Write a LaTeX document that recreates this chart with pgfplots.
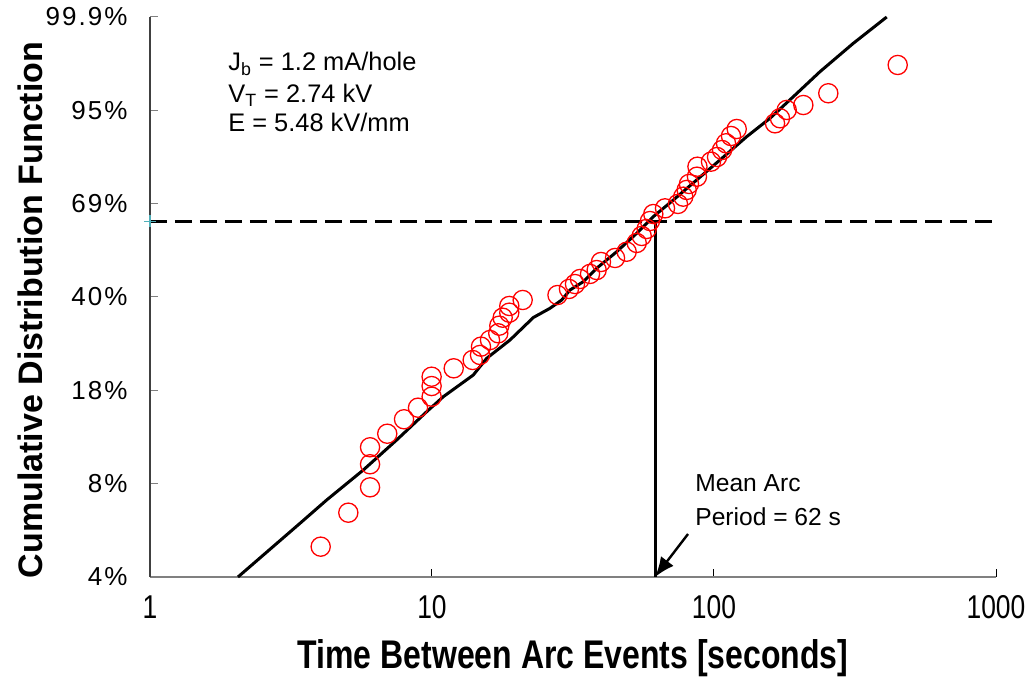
\documentclass[border=0pt]{standalone}
\usepackage{fontspec}
\setmainfont{Liberation Sans}
\newfontfamily\narrowfont[FakeStretch=0.8]{Liberation Sans}
\newfontfamily\spacedfont[LetterSpace=8]{Liberation Sans}
\usepackage{pgfplots}
\pgfplotsset{compat=1.18}
\usetikzlibrary{arrows.meta}
\definecolor{markcyan}{RGB}{80,175,185}
\begin{document}
\begin{tikzpicture}
\path[use as bounding box] (-75pt,-51pt) rectangle (439pt,288.5pt);
\begin{axis}[
  scale only axis, width=423pt, height=280pt,
  at={(0,0)}, anchor=south west,
  xmode=log, xmin=1, xmax=1000, ymin=0, ymax=6,
  axis lines*=left,
  x axis line style={color=gray, line width=1.3pt},
  y axis line style={color=darkgray, line width=0.6pt},
  tick align=inside,
  major tick length=4pt,
  xminorticks=false,
  xtick={1,10,100,1000}, xticklabels={1,10,100,1000},
  ytick={0,1,2,3,4,5,6},
  yticklabels={4\%,8\%,18\%,40\%,69\%,95\%,99.9\%},
  xtick style={black, line width=0.5pt},
  ytick style={gray, line width=0.5pt},
  xticklabel style={font=\narrowfont\fontsize{16.5}{18}\selectfont, anchor=center, inner sep=0pt, yshift=-15pt},
  yticklabel style={font=\spacedfont\fontsize{13}{15}\selectfont, anchor=east, inner sep=0pt, xshift=-11pt},
  xlabel={Time Between Arc Events [seconds]},
  ylabel={Cumulative Distribution Function},
  xlabel style={at={(axis description cs:0.5,-0.1446)}, anchor=center, font=\narrowfont\bfseries\fontsize{20}{22}\selectfont},
  ylabel style={at={(axis description cs:-0.1418,0.4768)}, anchor=center, font=\bfseries\fontsize{17}{19}\selectfont},
  clip=false,
]
% data circles
\addplot[only marks, mark=o, mark size=4.8pt, red, mark options={line width=0.65pt}] coordinates {
(4.03,0.325) (5.05,0.689) (6.03,0.961) (6.03,1.208) (6.03,1.390)
(6.94,1.535) (7.96,1.690) (8.92,1.814) (9.97,1.932) (9.97,2.046)
(9.97,2.146) (11.94,2.236) (13.94,2.325) (14.80,2.379) (14.92,2.468)
(16.06,2.539) (17.18,2.611) (17.33,2.693) (17.81,2.778) (18.80,2.832)
(18.80,2.904) (20.97,2.968) (27.86,3.021) (30.60,3.086) (32.14,3.139)
(33.48,3.193) (36.34,3.247) (38.37,3.289) (39.75,3.375) (44.57,3.418)
(49.02,3.485) (53.20,3.579) (55.41,3.654) (57.72,3.729) (59.29,3.814)
(60.92,3.889) (67.04,3.950) (74.51,3.997) (77.82,4.075) (80.01,4.147)
(81.53,4.211) (87.01,4.289) (87.37,4.396) (97.59,4.450) (102.5,4.500)
(106.8,4.575) (110.3,4.647) (114.9,4.725) (120.4,4.800) (164.6,4.861)
(171.4,4.915) (181.1,5.004) (207.4,5.057) (254.3,5.183) (448.2,5.486)
};
% fitted distribution line
\addplot[black, line width=1.5pt] coordinates {
(2.051,0) (3.403,0.575) (4.232,0.825) (5.706,1.146) (7.495,1.468)
(9.576,1.771) (10.97,1.932) (14.01,2.164) (15.63,2.343) (18.91,2.539)
(22.87,2.780) (26.21,2.879) (28.84,2.968) (30.86,3.075) (34.40,3.164)
(38.37,3.308) (45.19,3.485) (53.20,3.683) (60.92,3.861) (71.74,4.039)
(86.82,4.254) (105.0,4.468) (130.6,4.718) (158.0,4.915) (191.1,5.146)
(237.6,5.414) (311.9,5.718) (409.8,6)
};
% 63.2% dashed line
\addplot[black, line width=1.7pt, dash pattern=on 8.3pt off 4.2pt] coordinates {(1,3.81) (1000,3.81)};
% vertical line at mean period
\addplot[black, line width=1.3pt] coordinates {(62,3.81) (62,0)};
\addplot[only marks, mark=+, mark size=3pt, markcyan, mark options={line width=0.6pt}] coordinates {(1,3.81)};
\draw[-{Latex[length=10pt,width=8pt]}, line width=1.2pt] (axis cs:80.9,0.461) -- (axis cs:61.8,0.0);
\node[anchor=base west, inner sep=0pt, font=\fontsize{12.3}{14}\selectfont] at (axis cs:85.6,0.914) {Mean Arc};
\node[anchor=base west, inner sep=0pt, font=\fontsize{12.3}{14}\selectfont] at (axis cs:85.6,0.557) {Period = 62 s};
\node[anchor=base west, inner sep=0pt, font=\fontsize{12.7}{14}\selectfont] at (axis cs:1.89,5.425) {J\textsubscript{b} = 1.2 mA/hole};
\node[anchor=base west, inner sep=0pt, font=\fontsize{12.7}{14}\selectfont] at (axis cs:1.89,5.082) {V\textsubscript{T} = 2.74 kV};
\node[anchor=base west, inner sep=0pt, font=\fontsize{12.7}{14}\selectfont] at (axis cs:1.89,4.771) {E = 5.48 kV/mm};
\end{axis}
\end{tikzpicture}
\end{document}
